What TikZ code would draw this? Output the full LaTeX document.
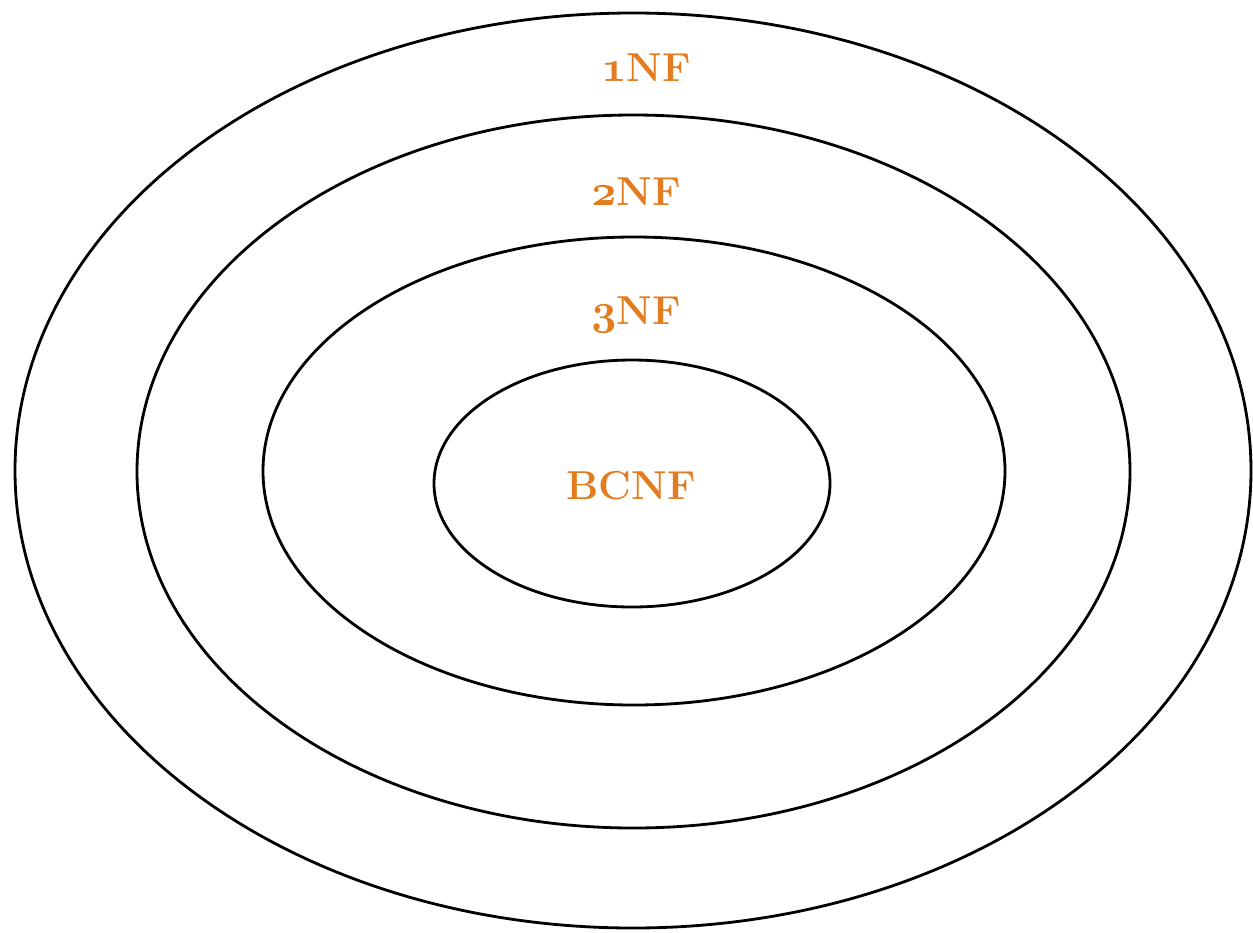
\documentclass[tikz,border=0pt]{standalone}
\usetikzlibrary{shapes.geometric}
\definecolor{nforange}{RGB}{226,124,30}
\newcommand{\onum}[1]{{\boldmath$\mathnormal{#1}$}}
\tikzset{
  ring/.style={draw=black, line width=1.6pt, ellipse, inner sep=0pt},
  lbl/.style={text=nforange, font=\fontsize{23}{26}\selectfont\bfseries, inner sep=0pt}
}
\begin{document}
\begin{tikzpicture}
\useasboundingbox (0,0) rectangle (25.06,-18.64);
\node[ring, minimum width=24.72cm, minimum height=18.3cm] (e1) at (12.66,-9.41) {};
\node[ring, minimum width=19.86cm, minimum height=14.26cm] (e2) at (12.67,-9.43) {};
\node[ring, minimum width=14.84cm, minimum height=9.36cm] (e3) at (12.68,-9.42) {};
\node[ring, minimum width=7.92cm, minimum height=4.94cm] (e4) at (12.64,-9.67) {};
\node[lbl] (l1) at (12.92,-1.36) {\onum{1}NF};
\node[lbl] (l2) at (12.72,-3.84) {\onum{2}NF};
\node[lbl] (l3) at (12.72,-6.30) {\onum{3}NF};
\node[lbl] (l4) at (12.62,-9.72) {BCNF};
\end{tikzpicture}
\end{document}
